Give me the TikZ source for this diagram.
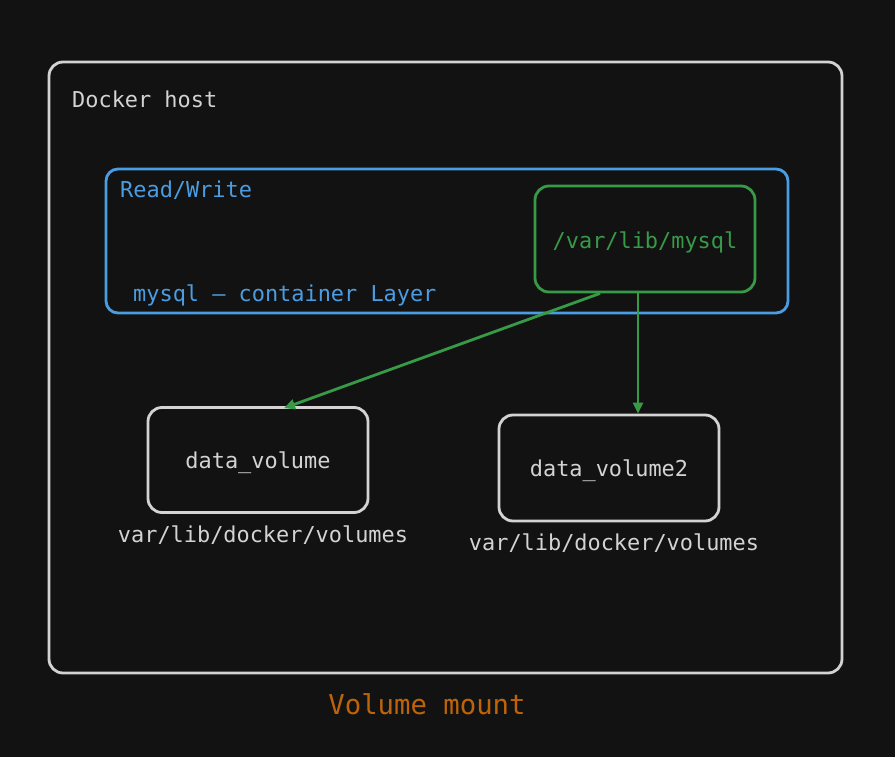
\documentclass[tikz,border=0pt]{standalone}
\usepackage{fontspec}
\setmonofont{DejaVu Sans Mono}
\usetikzlibrary{arrows.meta}
\definecolor{bg}{HTML}{121212}
\definecolor{fg}{HTML}{D3D3D3}
\definecolor{blu}{HTML}{4A9DE2}
\definecolor{grn}{HTML}{379A47}
\definecolor{org}{HTML}{BE6408}
\tikzset{
  box/.style={draw=fg, line width=2.8pt, rounded corners=14pt},
  lbl/.style={font=\ttfamily\fontsize{21.9}{25}\selectfont, text=fg, inner sep=0pt},
  link/.style={draw=grn, line width=2.8pt, -{Triangle[length=11pt,width=10pt]}},
}
\begin{document}
\begin{tikzpicture}[x=1pt,y=-1pt]
\fill[bg] (0,0) rectangle (895,757);
\useasboundingbox (0,0) rectangle (895,757);
% outer host
\draw[box] (49,62) rectangle (842,673);
\node[lbl, anchor=west] (host) at (72,99) {Docker host};
% container layer
\draw[box, draw=blu, rounded corners=12pt] (106,169) rectangle (788,313);
\node[lbl, text=blu, anchor=west] (rw) at (120,190) {Read/Write};
\node[lbl, text=blu, anchor=west] (layer) at (133,295) {mysql – container Layer};
% mysql dir
\node[box, draw=grn, minimum width=220pt, minimum height=106pt] (mysql) at (645,239) {};
\node[lbl, text=grn] (mysqlt) at (645,242) {/var/lib/mysql};
% volumes
\node[box, minimum width=220pt, minimum height=105pt] (v1) at (258,460) {};
\node[lbl] (v1t) at (258,463) {data\_volume};
\node[box, minimum width=220pt, minimum height=106pt] (v2) at (609,468) {};
\node[lbl] (v2t) at (609,471) {data\_volume2};
\node[lbl] (p1) at (263,535) {var/lib/docker/volumes};
\node[lbl] (p2) at (614,543) {var/lib/docker/volumes};
% connectors
\coordinate (a1) at ([xshift=-45pt]mysql.south);
\coordinate (a2) at ([xshift=-7pt]mysql.south);
\draw[link] (a1) -- ([xshift=26pt,yshift=-2pt]v1.north);
\draw[link] (a2) -- (a2 |- v2.north);
% caption
\node[lbl, text=org, font=\ttfamily\fontsize{27.3}{31}\selectfont] (cap) at (427,704) {Volume mount};
\end{tikzpicture}
\end{document}
